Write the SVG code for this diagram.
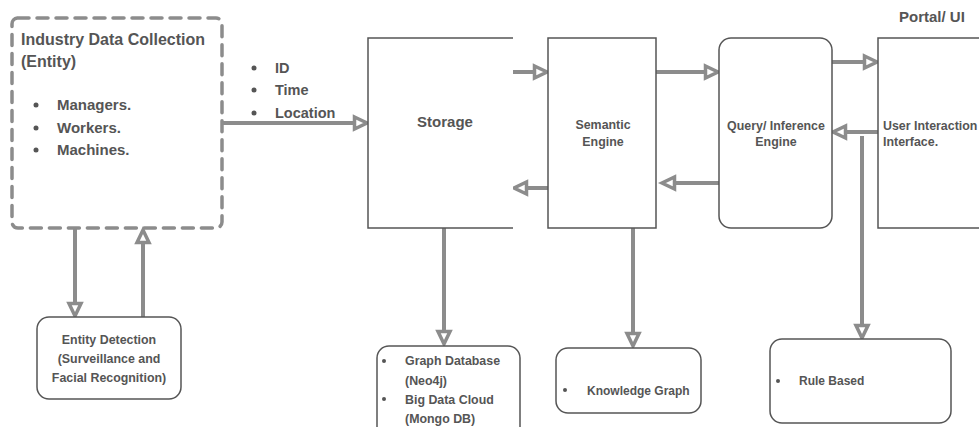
<svg xmlns="http://www.w3.org/2000/svg" width="979" height="427" viewBox="0 0 979 427">
<style>
text{font-family:"Liberation Sans",Arial,sans-serif;font-weight:bold;fill:#555}
.box{fill:#fff;stroke:#555;stroke-width:1.5}
.edge{fill:none;stroke:#8c8c8c;stroke-width:4}
.dash{fill:none;stroke:#8c8c8c;stroke-width:3.5;stroke-dasharray:11 8;stroke-linecap:round}
.b{font-size:15px}
.s{font-size:12.4px}
.dot{fill:#555}
</style>
<defs>
<marker id="ah" markerUnits="userSpaceOnUse" markerWidth="20" markerHeight="20" refX="14" refY="7.5" orient="auto" overflow="visible">
<path d="M1.5,1.5 L14,7.5 L1.5,13.5 Z" fill="#fff" stroke="#8c8c8c" stroke-width="3.5" stroke-linejoin="miter"/>
</marker>
</defs>
<rect width="979" height="427" fill="#fff"/>

<g id="connectors">
<path class="edge" d="M222,123 H367" marker-end="url(#ah)"/>
<path class="edge" d="M513,72 H547" marker-end="url(#ah)"/>
<path class="edge" d="M548,188 H514" marker-end="url(#ah)"/>
<path class="edge" d="M656,72 H718" marker-end="url(#ah)"/>
<path class="edge" d="M719,183 H662" marker-end="url(#ah)"/>
<path class="edge" d="M832,62 H877" marker-end="url(#ah)"/>
<path class="edge" d="M878,132 H833" marker-end="url(#ah)"/>
<path class="edge" d="M862,136 V338" marker-end="url(#ah)"/>
<path class="edge" d="M444,228 V344" marker-end="url(#ah)"/>
<path class="edge" d="M633,228 V346" marker-end="url(#ah)"/>
<path class="edge" d="M75,228 V316" marker-end="url(#ah)"/>
<path class="edge" d="M143,317 V230" marker-end="url(#ah)"/>
</g>

<g id="industry-data-collection">
<rect class="dash" x="12" y="18" width="210" height="210" rx="6"/>
<text x="21" y="45" style="font-size:16px">Industry Data Collection</text>
<text x="21" y="67" style="font-size:16px">(Entity)</text>
<circle class="dot" cx="36" cy="105" r="2.5"/>
<circle class="dot" cx="36" cy="128" r="2.5"/>
<circle class="dot" cx="36" cy="150" r="2.5"/>
<text class="b" x="57" y="110">Managers.</text>
<text class="b" x="57" y="133">Workers.</text>
<text class="b" x="57" y="155">Machines.</text>
</g>

<g id="id-time-location">
<circle class="dot" cx="254" cy="68" r="2.5"/>
<circle class="dot" cx="254" cy="90" r="2.5"/>
<circle class="dot" cx="254" cy="113" r="2.5"/>
<text x="275" y="73" style="font-size:14.5px">ID</text>
<text x="275" y="95" style="font-size:14.5px">Time</text>
<text x="275" y="118" style="font-size:14.5px">Location</text>
</g>

<g id="storage">
<path d="M513,38 H368 V228 H513" fill="#fff" stroke="#555" stroke-width="1.5"/>
<text class="b" x="445" y="127" text-anchor="middle">Storage</text>
</g>

<g id="semantic-engine">
<rect class="box" x="548" y="38" width="108" height="190"/>
<text class="s" x="603" y="129" text-anchor="middle">Semantic</text>
<text class="s" x="603" y="146" text-anchor="middle">Engine</text>
</g>

<g id="query-engine">
<rect class="box" x="719" y="38" width="113" height="190" rx="12"/>
<text class="s" x="776" y="130" text-anchor="middle">Query/ Inference</text>
<text class="s" x="776" y="146" text-anchor="middle">Engine</text>
</g>

<g id="portal-ui">
<text x="899" y="22" style="font-size:15px">Portal/ UI</text>
<rect class="box" x="878" y="38" width="120" height="190"/>
<text class="s" x="883" y="130">User Interaction</text>
<text class="s" x="883" y="146">Interface.</text>
</g>

<g id="entity-detection">
<rect class="box" x="37" y="317" width="144" height="82" rx="12"/>
<text class="s" x="109" y="344" text-anchor="middle">Entity Detection</text>
<text class="s" x="109" y="363" text-anchor="middle">(Surveillance and</text>
<text class="s" x="109" y="382" text-anchor="middle">Facial Recognition)</text>
</g>

<g id="graph-database">
<rect class="box" x="377" y="346" width="143" height="100" rx="12"/>
<circle class="dot" cx="384" cy="361" r="2"/>
<circle class="dot" cx="384" cy="399" r="2"/>
<text class="s" x="405" y="365">Graph Database</text>
<text class="s" x="405" y="385">(Neo4j)</text>
<text class="s" x="405" y="404">Big Data Cloud</text>
<text class="s" x="405" y="423">(Mongo DB)</text>
</g>

<g id="knowledge-graph">
<rect class="box" x="556" y="348" width="145" height="65" rx="12"/>
<circle class="dot" cx="565" cy="390" r="2"/>
<text class="s" x="587" y="395" style="font-size:12px">Knowledge Graph</text>
</g>

<g id="rule-based">
<rect class="box" x="770" y="339" width="181" height="84" rx="12"/>
<circle class="dot" cx="778" cy="381" r="2"/>
<text class="s" x="799" y="385" style="font-size:12px">Rule Based</text>
</g>
</svg>
